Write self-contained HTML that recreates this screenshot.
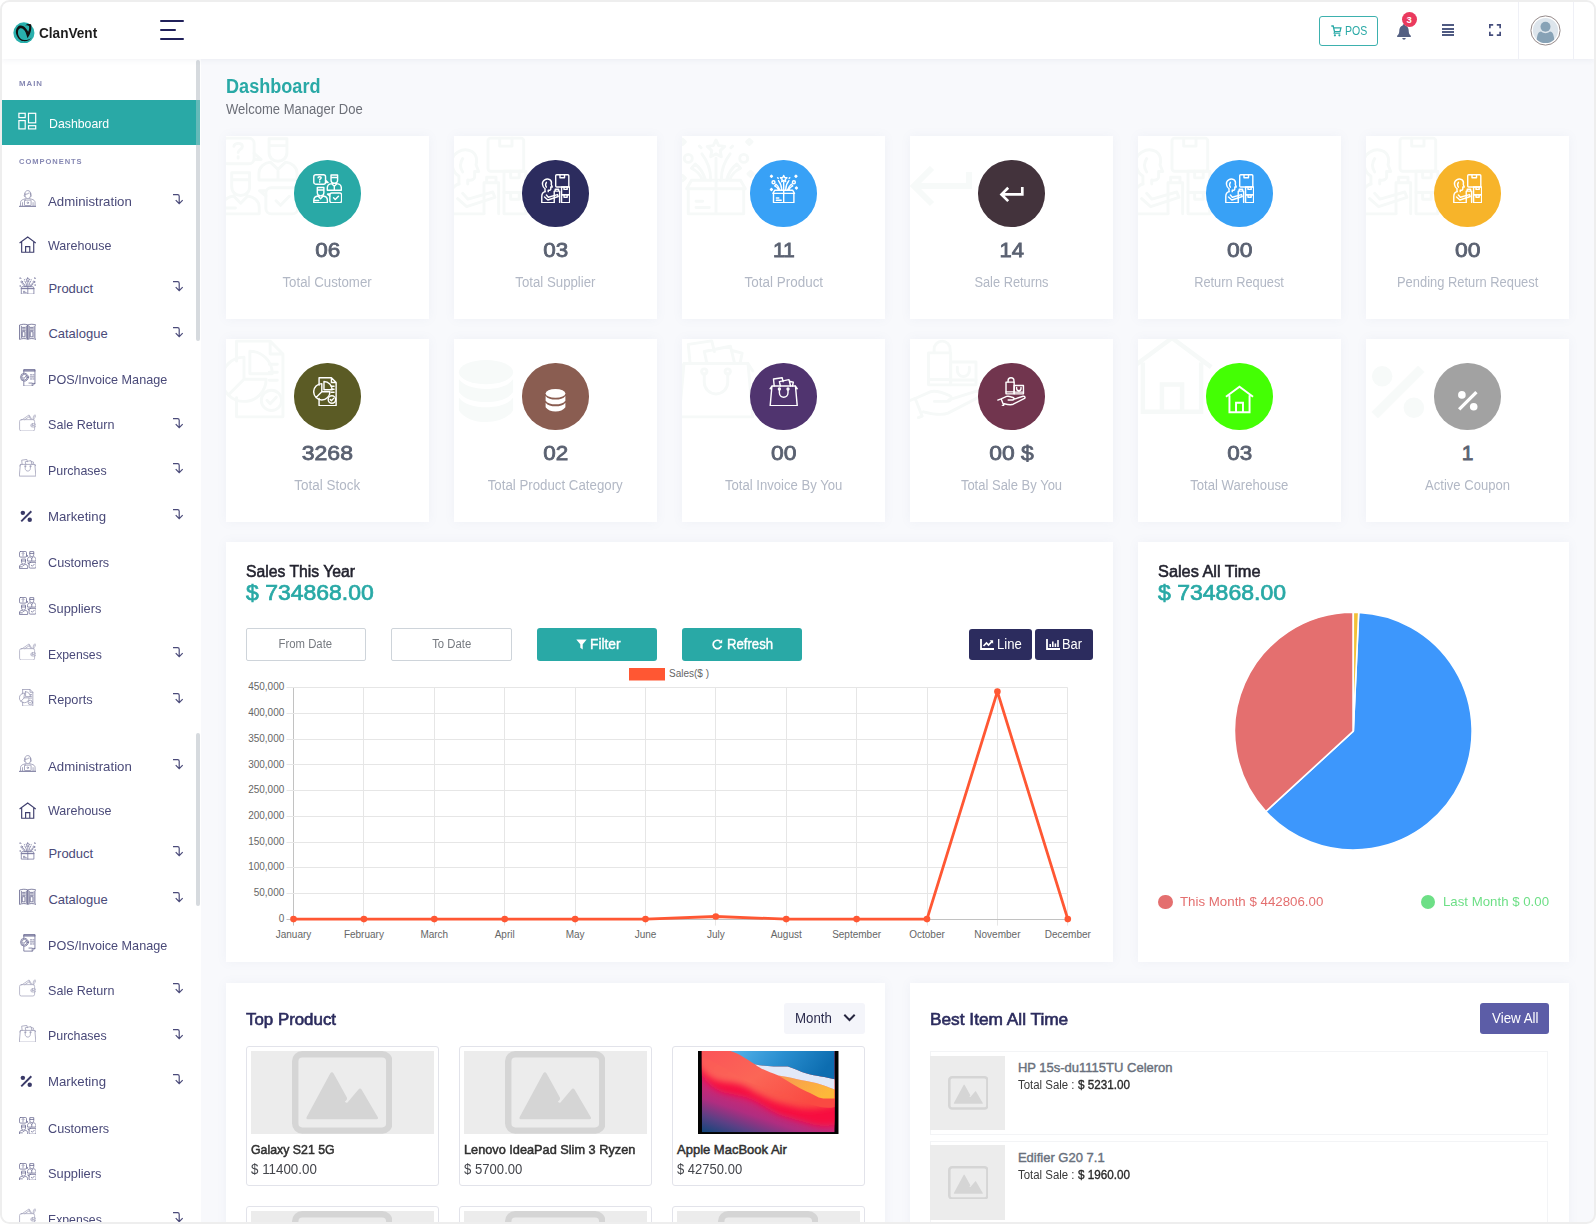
<!DOCTYPE html>
<html lang="en"><head><meta charset="utf-8"><title>ClanVent - Dashboard</title>
<style>
html,body{margin:0;padding:0;background:#fff;width:1596px;height:1224px;overflow:hidden}
body{font-family:"Liberation Sans",Arial,sans-serif;position:relative}
#f{position:absolute;left:0;top:0;width:1592px;height:1220px;border:2px solid #eee;border-radius:9.500px;overflow:hidden;background:#f8f9fc}
#c{position:absolute;left:-2px;top:-2px;width:1596px;height:1224px}
.a{position:absolute;display:block}
.t{position:absolute;display:block;white-space:nowrap;line-height:1}
</style></head><body><div id="f"><div id="c">
<div class="a" style="left:2px;top:2px;width:1592px;height:57px;background:#fff;box-shadow:0 1px 6px rgba(60,70,110,.07);z-index:3"></div>
<div class="a" style="z-index:4;left:0;top:0;width:1596px;height:60px">
<svg class="a" style="left:12.900px;top:21.700px" width="21.800" height="21.800" viewBox="0 0 22 22"><circle cx="11" cy="11" r="10.650" fill="#29b0ad"/><path d="M6.800 3.600C3.500 4.800 2.200 9 3.400 12.500 4.600 16 7.500 19.200 11 19.300c3.500.1 6.500-1.300 7.900-3.700-1.900 2-4.900 2.800-7.700 2.600C8 18 5.800 15.400 5.200 12.400 4.600 9.500 5.400 7 7.400 6.400c2.100-.5 4.100 1.600 5.400 4.200l1.900 5.800c2.300-3.400 4.500-7.900 3.600-13.800-1.100-.6-3.300-.6-4.700-.1l-1.300 1.100c1.500-.4 2.900-.5 3.900.7.400 2.300-.1 4-.9 5.600C14.400 8 12.400 5.600 10.600 4.400 9.400 3.600 8 3.300 6.800 3.600z" fill="#121212"/></svg>
<span class="t" style="left:38.60px;top:25.76px;font-size:14px;color:#1d1d1d;font-weight:700;transform:scaleX(0.9716);transform-origin:0 50%;">ClanVent</span>
<div class="a" style="left:160px;top:19.6px;width:24.30000000000001px;height:2.1999999999999993px;background:#20205a;border-radius:1px"></div>
<div class="a" style="left:160px;top:28.6px;width:15.800000000000011px;height:2.1999999999999993px;background:#20205a;border-radius:1px"></div>
<div class="a" style="left:160px;top:38px;width:24.30000000000001px;height:2.200000000000003px;background:#20205a;border-radius:1px"></div>
<div class="a" style="left:1319px;top:16px;width:59px;height:30px;box-sizing:border-box;border:1.4px solid #3db1ae;border-radius:3px"></div>
<svg class="a" style="left:1331px;top:24.5px" width="11" height="12" viewBox="0 0 11 12"><path d="M.3 1h1.900l1.300 5.600h5.500l.9-3.800H3" fill="none" stroke="#29a9a6" stroke-width="1.300"/><path d="M3.600 6.600l-.5 1.600h6.200" fill="none" stroke="#29a9a6" stroke-width="1.100"/><circle cx="3.900" cy="10.300" r="1.100" fill="#29a9a6"/><circle cx="8.400" cy="10.300" r="1.100" fill="#29a9a6"/></svg>
<span class="t" style="left:1345.20px;top:25.49px;font-size:12.3px;color:#29a9a6;transform:scaleX(0.8585);transform-origin:0 50%;">POS</span>
<svg class="a" style="left:1396px;top:23px" width="16" height="18" viewBox="0 0 16 18"><path d="M8 1.200c-.8 0-1.300.5-1.300 1.200C4.300 3.100 3.300 5.200 3.300 7.600c0 2.600-.7 4-2.100 5.200-.4.400-.2 1.200.5 1.200h12.600c.7 0 .9-.8.500-1.200-1.400-1.200-2.100-2.600-2.100-5.200 0-2.400-1-4.500-3.400-5.200C9.300 1.700 8.800 1.200 8 1.200z" fill="#546083"/><path d="M6.300 15h3.400c0 1-.8 1.700-1.700 1.700S6.300 16 6.300 15z" fill="#546083"/></svg>
<div class="a" style="left:1401.5px;top:11.700px;width:15.400px;height:15.400px;border-radius:50%;background:#ea3a5e"></div>
<span class="t" style="left:1406.56px;top:14.86px;font-size:9.5px;color:#fff;font-weight:700;">3</span>
<div class="a" style="left:1441.6px;top:24px;width:12.400000000000091px;height:2px;background:#4f5a82;"></div>
<div class="a" style="left:1441.6px;top:27.5px;width:12.400000000000091px;height:2.0px;background:#4f5a82;"></div>
<div class="a" style="left:1441.6px;top:31px;width:12.400000000000091px;height:2px;background:#4f5a82;"></div>
<div class="a" style="left:1441.6px;top:34.3px;width:12.400000000000091px;height:2.0px;background:#4f5a82;"></div>
<svg class="a" style="left:1489px;top:24px" width="12" height="12" viewBox="0 0 12 12" fill="none" stroke="#454e7c" stroke-width="1.700"><path d="M.85 4.200V.85H4.200M7.800.85h3.350V4.200M11.150 7.800v3.350H7.800M4.200 11.150H.85V7.800"/></svg>
<div class="a" style="left:1518px;top:2px;width:1px;height:57px;background:#eff0f6;"></div>
<div class="a" style="left:1573px;top:2px;width:1px;height:57px;background:#eff0f6;"></div>
<svg class="a" style="left:1530.200px;top:14.500px" width="31" height="31" viewBox="0 0 31 31"><circle cx="15.500" cy="15.500" r="14.600" fill="#fff" stroke="#958a8a" stroke-width="1"/><clipPath id="avc"><circle cx="15.500" cy="15.500" r="12.600"/></clipPath><circle cx="15.500" cy="15.500" r="12.600" fill="#dde5ec"/><g clip-path="url(#avc)" fill="#87a2b6"><circle cx="15.500" cy="11.800" r="5"/><path d="M6.500 30c0-9 1.500-13.500 4.500-13.500 1.500 1.300 3 1.700 4.500 1.700s3-.4 4.500-1.700c3 0 4.500 4.500 4.500 13.500z"/></g></svg>
</div>
<div class="a" style="left:2px;top:59px;width:194.3px;height:1163px;background:#fff;"></div>
<div class="a" style="left:196.3px;top:59px;width:4.699999999999989px;height:1163px;background:#fff;"></div>
<div class="a" style="left:196.3px;top:59.5px;width:3.6999999999999886px;height:281.0px;background:#d6dade;border-radius:2px"></div>
<div class="a" style="left:196.3px;top:733px;width:3.6999999999999886px;height:173px;background:#d6dade;border-radius:2px"></div>
<span class="t" style="left:18.60px;top:80.09px;font-size:8px;color:#8688b3;font-weight:700;letter-spacing:1px;transform:scaleX(0.9819);transform-origin:0 50%;">MAIN</span>
<div class="a" style="left:2px;top:100px;width:198px;height:45.19999999999999px;background:#29a9a6;"></div>
<div class="a" style="left:196.3px;top:100px;width:3.6999999999999886px;height:45.19999999999999px;background:rgba(214,218,222,.35);"></div>
<svg class="a" style="left:18px;top:112px" width="19" height="18" viewBox="0 0 19 18" fill="none" stroke="#fff" stroke-width="1.200"><rect x=".9" y="1.300" width="6.300" height="4.300"/><rect x="10.500" y="1.300" width="7.200" height="9.500"/><rect x=".9" y="8.600" width="6.300" height="8.300"/><rect x="10.500" y="13.700" width="7.200" height="3.200"/></svg>
<span class="t" style="left:48.80px;top:116.85px;font-size:13px;color:#fff;transform:scaleX(0.9466);transform-origin:0 50%;">Dashboard</span>
<span class="t" style="left:18.60px;top:157.69px;font-size:8px;color:#8688b3;font-weight:700;letter-spacing:1px;transform:scaleX(0.9445);transform-origin:0 50%;">COMPONENTS</span>
<span class="t" style="left:48.40px;top:194.65px;font-size:13px;color:#4a4a79;transform:scaleX(1.0174);transform-origin:0 50%;">Administration</span>
<svg class="a" style="left:18.6px;top:189.9px;opacity:1;" width="17.6" height="17.6" viewBox="0 0 30 30" fill="none" stroke="#8c8cab" stroke-width="1.3" stroke-linejoin="round" stroke-linecap="round"><path d="M9.600 7.200c0-3.600 2.400-6.200 5.400-6.200s5.400 2.600 5.400 6.200M10.400 6.800v2.800c0 2.800 2 5 4.600 5s4.600-2.200 4.600-5V6.800M9.600 7.200c3 .4 6-.6 7.800-2.600.8 1.200 1.800 2 3 2.400M9.600 8.600c-1.200 0-1.500 2.600.4 3M20.400 8.600c1.200 0 1.500 2.600-.4 3M2.600 27v-5.600c0-3 2.400-4.800 5.400-5.500l4-1.200M27.400 27v-5.600c0-3-2.400-4.800-5.400-5.500l-4-1.200M6 21.500V27M24 21.500V27"/><rect x="9.400" y="17.200" width="11.200" height="9.300" rx="1"/><circle cx="15" cy="21.800" r="1.300"/><path d="M.8 28h28.400" stroke-width="2.200"/></svg>
<svg class="a" style="left:172px;top:192.9px" width="12" height="12" viewBox="0 0 12 12" fill="none" stroke="#4a4a79" stroke-width="1.200"><path d="M1 1.600h4.600c1 0 1.600.6 1.600 1.600v7.200M3.700 7.200l3.500 3.500 3.500-3.500"/></svg>
<span class="t" style="left:48.40px;top:238.75px;font-size:13px;color:#4a4a79;transform:scaleX(0.9622);transform-origin:0 50%;">Warehouse</span>
<svg class="a" style="left:18.6px;top:236.4px" width="17.4" height="17.4" viewBox="0 0 30 30" fill="none" stroke="#3f3f6e" stroke-width="2" stroke-linejoin="miter"><path d="M1 12.200L15 1.800l14 10.400M4.600 10.500v17.600h20.800V10.500M11.400 28.100v-9.700h7.200v9.700"/></svg>
<span class="t" style="left:48.40px;top:281.55px;font-size:13px;color:#4a4a79;">Product</span>
<svg class="a" style="left:18.6px;top:276.8px;opacity:1;" width="17.6" height="17.6" viewBox="0 0 30 30" fill="none" stroke="#74749b" stroke-width="1.3" stroke-linejoin="round" stroke-linecap="round"><path d="M4.600 19.800h20.800v9.400H4.600zM5.800 16.600h18.400l1.800 3.200H4zM15 16.600v12.600M7.500 24.500h2.500M7.500 26.800h5"/><path d="M15 1.500l1 2.100 2.300.3-1.700 1.600.4 2.300-2-1.100-2 1.100.4-2.300-1.700-1.600 2.300-.3zM15 8.300v8M13 16.300c0-4-1.300-7-3.300-9.600M17 16.300c0-4 1.300-7 3.300-9.600M11 16.300c-.8-2.600-2-4.400-3.800-5.800l-1.400 1.600c2 1 3.400 2.400 4 4.200M19 16.300c.8-2.600 2-4.400 3.800-5.800l1.400 1.600c-2 1-3.400 2.400-4 4.200"/><circle cx="4.600" cy="8.400" r="1.500"/><circle cx="25.400" cy="8.400" r="1.500"/><path d="M2.500 1.200l1 1-1 1-1-1zM27.500 1.200l1 1-1 1-1-1zM2.500 14.800l1 1-1 1-1-1zM28 13.200l1 1-1 1-1-1zM8.800 3.800l.6.600M21.200 3.800l-.6.600"/></svg>
<svg class="a" style="left:172px;top:279.8px" width="12" height="12" viewBox="0 0 12 12" fill="none" stroke="#4a4a79" stroke-width="1.200"><path d="M1 1.600h4.600c1 0 1.600.6 1.600 1.600v7.200M3.700 7.200l3.500 3.500 3.500-3.500"/></svg>
<span class="t" style="left:48.40px;top:327.35px;font-size:13px;color:#4a4a79;">Catalogue</span>
<svg class="a" style="left:18.6px;top:322.6px;opacity:1;" width="17.6" height="17.6" viewBox="0 0 30 30" fill="none" stroke="#5d5d88" stroke-width="1.3" stroke-linejoin="round" stroke-linecap="round"><path d="M1.500 3.300c4.500-1.600 9-1.600 13.500 0v24.400c-4.500-1.600-9-1.600-13.500 0zM28.500 3.300c-4.500-1.600-9-1.600-13.500 0v24.400c4.500-1.600 9-1.600 13.500 0z"/><path d="M4 5.500v19.700M12.500 5.500v19.700M17.500 5.500v19.700M26 5.500v19.700M6 7.500h4.500M6 10h4.500M6 12.500h4.500M19.500 7.500H24M19.500 10H24M19.500 12.500H24"/><rect x="6.200" y="14.800" width="4" height="8.800"/><rect x="19.800" y="14.800" width="4" height="8.800"/></svg>
<svg class="a" style="left:172px;top:325.6px" width="12" height="12" viewBox="0 0 12 12" fill="none" stroke="#4a4a79" stroke-width="1.200"><path d="M1 1.600h4.600c1 0 1.600.6 1.600 1.600v7.200M3.700 7.200l3.500 3.500 3.500-3.500"/></svg>
<span class="t" style="left:48.40px;top:373.35px;font-size:13px;color:#4a4a79;transform:scaleX(0.9703);transform-origin:0 50%;">POS/Invoice Manage</span>
<svg class="a" style="left:18.6px;top:368.6px;opacity:1;" width="17.6" height="17.6" viewBox="0 0 30 30" fill="none" stroke="#64648e" stroke-width="1.3" stroke-linejoin="round" stroke-linecap="round"><path d="M8.200 7V.8h19v23.800l-4.700 4.600H8.200v-8.500M22.500 29.200v-4.600h4.700M8.200 2.200h19M8.200 3.600h19M19.500 10h2M23.500 10h2M19 13.500h6.500M19.500 17h2M23.500 17h2M17 24h5"/><circle cx="9.300" cy="14" r="6.700"/><circle cx="9.300" cy="14" r="4.800"/><path d="M6.200 14l2.200 2.200 4-4.600"/></svg>
<span class="t" style="left:48.40px;top:418.35px;font-size:13px;color:#4a4a79;transform:scaleX(0.9672);transform-origin:0 50%;">Sale Return</span>
<svg class="a" style="left:18.6px;top:413.6px;opacity:1;" width="17.6" height="17.6" viewBox="0 0 30 30" fill="none" stroke="#a6a6bd" stroke-width="1.3" stroke-linejoin="round" stroke-linecap="round"><rect x="1" y="9.600" width="25.600" height="19.400" rx="3"/><path d="M5.500 9.600l11.700-8 4.300 7M10 9.600l8-5.400M17.500 5l3 4.600"/><rect x="20" y="16.600" width="9.200" height="5.600" rx="2.800"/><circle cx="23" cy="19.400" r="1.200"/><path d="M23.800 9.600l.8-5c.3-1.600 2-3.800 3.800-2.600 1.300 1 .4 3-1 4l-2 1.600-.2 2M26.300 3.800l.6.600"/></svg>
<svg class="a" style="left:172px;top:416.6px" width="12" height="12" viewBox="0 0 12 12" fill="none" stroke="#4a4a79" stroke-width="1.200"><path d="M1 1.600h4.600c1 0 1.600.6 1.600 1.600v7.200M3.700 7.200l3.500 3.500 3.500-3.500"/></svg>
<span class="t" style="left:48.40px;top:464.05px;font-size:13px;color:#4a4a79;transform:scaleX(0.9557);transform-origin:0 50%;">Purchases</span>
<svg class="a" style="left:18.6px;top:459.3px;opacity:1;" width="17.6" height="17.6" viewBox="0 0 30 30" fill="none" stroke="#9a9ab4" stroke-width="1.3" stroke-linejoin="round" stroke-linecap="round"><path d="M3 9.200h24l1.800 20H1.200zM3 9.200L1.200 12M27 9.200l1.800 2.800"/><path d="M10.600 13v3.200c0 2.500 2 4.400 4.400 4.400s4.400-1.900 4.400-4.400V13"/><circle cx="10.600" cy="12.200" r="1"/><circle cx="19.400" cy="12.200" r="1"/><path d="M5.300 9.200L4.600 2l8.800-1.300 1 4M11.600 9.200l-1-4.500 9.800-2 1.600 6.500M21 4.300l3.800 1-.8 3.900"/></svg>
<svg class="a" style="left:172px;top:462.3px" width="12" height="12" viewBox="0 0 12 12" fill="none" stroke="#4a4a79" stroke-width="1.200"><path d="M1 1.600h4.600c1 0 1.600.6 1.600 1.600v7.200M3.700 7.200l3.500 3.500 3.500-3.500"/></svg>
<span class="t" style="left:48.40px;top:509.75px;font-size:13px;color:#4a4a79;transform:scaleX(1.0161);transform-origin:0 50%;">Marketing</span>
<svg class="a" style="left:20.4px;top:510.0px" width="12.6" height="12.6" viewBox="0 0 30 30"><circle cx="6.800" cy="6.800" r="5.300" fill="#3a3a68"/><circle cx="23.200" cy="23.200" r="5.300" fill="#3a3a68"/><path d="M3 27L27 3" stroke="#3a3a68" stroke-width="4.600"/></svg>
<svg class="a" style="left:172px;top:508.0px" width="12" height="12" viewBox="0 0 12 12" fill="none" stroke="#4a4a79" stroke-width="1.200"><path d="M1 1.600h4.600c1 0 1.600.6 1.600 1.600v7.200M3.700 7.200l3.500 3.500 3.500-3.500"/></svg>
<span class="t" style="left:48.40px;top:556.15px;font-size:13px;color:#4a4a79;transform:scaleX(0.9738);transform-origin:0 50%;">Customers</span>
<svg class="a" style="left:18.6px;top:551.4px;opacity:1;" width="17.6" height="17.6" viewBox="0 0 30 30" fill="none" stroke="#6a6a92" stroke-width="1.3" stroke-linejoin="round" stroke-linecap="round"><rect x=".8" y=".8" width="12" height="9.600" rx="2"/><path d="M12.800 6.500l2.600 2.300h-2.600M5.200 3.900c0-1.500 3.200-1.500 3.200 0 0 1.100-1.600 1.100-1.600 2.300M6.800 7.800v.5"/><path d="M18.400 3.600V1h6.700v2.600zM18.400 3.600v2.600c0 2 1.500 3.300 3.350 3.300s3.350-1.300 3.350-3.300V3.600M14.600 16.500v-2.400c0-2.500 2-4 4.300-4.300l2.850 2.700 2.850-2.700c2.300.3 4.300 1.800 4.300 4.300v2.400zM21.750 12.500v4"/><path d="M4.400 16.400v-2.600h6.700v2.600zM4.400 16.400V19c0 2 1.500 3.300 3.350 3.300S11.100 21 11.100 19v-2.600M.8 29.200v-2.400c0-2.500 2-4 4.300-4.300l2.650 2.700 2.650-2.700c2.300.3 4.300 1.800 4.300 4.300v2.400zM.8 27h5"/><rect x="17.200" y="19.400" width="12" height="9.800" rx="2"/><path d="M17.200 22.500l-2.400-2h2.400M21 24.300l1.700 1.700 3.300-3.400"/></svg>
<span class="t" style="left:48.40px;top:601.85px;font-size:13px;color:#4a4a79;transform:scaleX(0.9853);transform-origin:0 50%;">Suppliers</span>
<svg class="a" style="left:18.6px;top:597.1px;opacity:1;" width="17.6" height="17.6" viewBox="0 0 30 30" fill="none" stroke="#6a6a92" stroke-width="1.3" stroke-linejoin="round" stroke-linecap="round"><rect x=".8" y=".8" width="12" height="9.600" rx="2"/><path d="M12.800 6.500l2.600 2.300h-2.600M5.200 3.900c0-1.500 3.200-1.500 3.200 0 0 1.100-1.600 1.100-1.600 2.300M6.800 7.800v.5"/><path d="M18.400 3.600V1h6.700v2.600zM18.400 3.600v2.600c0 2 1.500 3.300 3.350 3.300s3.350-1.300 3.350-3.300V3.600M14.600 16.500v-2.400c0-2.500 2-4 4.300-4.300l2.850 2.700 2.850-2.700c2.300.3 4.300 1.800 4.300 4.300v2.400zM21.750 12.500v4"/><path d="M4.400 16.400v-2.600h6.700v2.600zM4.400 16.400V19c0 2 1.500 3.300 3.350 3.300S11.100 21 11.100 19v-2.600M.8 29.200v-2.400c0-2.500 2-4 4.300-4.300l2.650 2.700 2.650-2.700c2.300.3 4.300 1.800 4.300 4.300v2.400zM.8 27h5"/><rect x="17.200" y="19.400" width="12" height="9.800" rx="2"/><path d="M17.200 22.500l-2.400-2h2.400M21 24.300l1.700 1.700 3.300-3.400"/></svg>
<span class="t" style="left:48.40px;top:647.55px;font-size:13px;color:#4a4a79;transform:scaleX(0.9424);transform-origin:0 50%;">Expenses</span>
<svg class="a" style="left:18.6px;top:642.8px;opacity:1;" width="17.6" height="17.6" viewBox="0 0 30 30" fill="none" stroke="#a6a6bd" stroke-width="1.3" stroke-linejoin="round" stroke-linecap="round"><rect x="1" y="9.600" width="25.600" height="19.400" rx="3"/><path d="M5.500 9.600l11.700-8 4.300 7M10 9.600l8-5.400M17.500 5l3 4.600"/><rect x="20" y="16.600" width="9.200" height="5.600" rx="2.800"/><circle cx="23" cy="19.400" r="1.200"/><path d="M23.800 9.600l.8-5c.3-1.600 2-3.800 3.800-2.600 1.300 1 .4 3-1 4l-2 1.600-.2 2M26.300 3.800l.6.600"/></svg>
<svg class="a" style="left:172px;top:645.8px" width="12" height="12" viewBox="0 0 12 12" fill="none" stroke="#4a4a79" stroke-width="1.200"><path d="M1 1.600h4.600c1 0 1.600.6 1.600 1.600v7.200M3.700 7.200l3.500 3.500 3.500-3.500"/></svg>
<span class="t" style="left:48.40px;top:693.25px;font-size:13px;color:#4a4a79;transform:scaleX(0.9798);transform-origin:0 50%;">Reports</span>
<svg class="a" style="left:18.6px;top:688.5px;opacity:1;" width="17.6" height="17.6" viewBox="0 0 30 30" fill="none" stroke="#9696b2" stroke-width="1.3" stroke-linejoin="round" stroke-linecap="round"><path d="M6.200.8h12.600l4.800 4.800v23.600H6.200V22M6.200.8v7.500M18.800.8v4.800h4.800M18.500 9.500h3M18.500 12.500h3M18.500 15.500h3"/><path d="M9 6.800A8.300 8.300 0 1 0 17.300 15.100H9zM9 15.100l-5.900 5.900"/><path d="M11.200 4.600v8.400h8.400a8.400 8.400 0 0 0-8.400-8.400z"/><circle cx="19.300" cy="23" r="3.800"/><path d="M17.600 23l1.200 1.300 2.300-2.500"/></svg>
<svg class="a" style="left:172px;top:691.5px" width="12" height="12" viewBox="0 0 12 12" fill="none" stroke="#4a4a79" stroke-width="1.200"><path d="M1 1.600h4.600c1 0 1.600.6 1.600 1.600v7.200M3.700 7.200l3.500 3.500 3.500-3.500"/></svg>
<span class="t" style="left:48.40px;top:760.05px;font-size:13px;color:#4a4a79;transform:scaleX(1.0174);transform-origin:0 50%;">Administration</span>
<svg class="a" style="left:18.6px;top:755.3px;opacity:1;" width="17.6" height="17.6" viewBox="0 0 30 30" fill="none" stroke="#8c8cab" stroke-width="1.3" stroke-linejoin="round" stroke-linecap="round"><path d="M9.600 7.200c0-3.600 2.400-6.200 5.400-6.200s5.400 2.600 5.400 6.200M10.400 6.800v2.800c0 2.800 2 5 4.600 5s4.600-2.200 4.600-5V6.800M9.600 7.200c3 .4 6-.6 7.800-2.600.8 1.200 1.800 2 3 2.400M9.600 8.600c-1.200 0-1.500 2.600.4 3M20.400 8.600c1.200 0 1.500 2.600-.4 3M2.600 27v-5.600c0-3 2.400-4.800 5.400-5.500l4-1.200M27.400 27v-5.600c0-3-2.400-4.800-5.400-5.500l-4-1.200M6 21.500V27M24 21.500V27"/><rect x="9.400" y="17.200" width="11.200" height="9.300" rx="1"/><circle cx="15" cy="21.800" r="1.300"/><path d="M.8 28h28.400" stroke-width="2.200"/></svg>
<svg class="a" style="left:172px;top:758.3px" width="12" height="12" viewBox="0 0 12 12" fill="none" stroke="#4a4a79" stroke-width="1.200"><path d="M1 1.600h4.600c1 0 1.600.6 1.600 1.600v7.200M3.700 7.200l3.500 3.500 3.500-3.500"/></svg>
<span class="t" style="left:48.40px;top:804.15px;font-size:13px;color:#4a4a79;transform:scaleX(0.9622);transform-origin:0 50%;">Warehouse</span>
<svg class="a" style="left:18.6px;top:801.8px" width="17.4" height="17.4" viewBox="0 0 30 30" fill="none" stroke="#3f3f6e" stroke-width="2" stroke-linejoin="miter"><path d="M1 12.200L15 1.800l14 10.400M4.600 10.500v17.600h20.800V10.500M11.400 28.100v-9.700h7.200v9.700"/></svg>
<span class="t" style="left:48.40px;top:846.95px;font-size:13px;color:#4a4a79;">Product</span>
<svg class="a" style="left:18.6px;top:842.2px;opacity:1;" width="17.6" height="17.6" viewBox="0 0 30 30" fill="none" stroke="#74749b" stroke-width="1.3" stroke-linejoin="round" stroke-linecap="round"><path d="M4.600 19.800h20.800v9.400H4.600zM5.800 16.600h18.400l1.800 3.200H4zM15 16.600v12.600M7.500 24.500h2.500M7.500 26.800h5"/><path d="M15 1.500l1 2.100 2.300.3-1.700 1.600.4 2.300-2-1.100-2 1.100.4-2.300-1.700-1.600 2.300-.3zM15 8.300v8M13 16.300c0-4-1.300-7-3.300-9.600M17 16.300c0-4 1.300-7 3.300-9.600M11 16.300c-.8-2.600-2-4.400-3.800-5.800l-1.400 1.600c2 1 3.400 2.400 4 4.200M19 16.300c.8-2.600 2-4.400 3.800-5.800l1.400 1.600c-2 1-3.400 2.400-4 4.200"/><circle cx="4.600" cy="8.400" r="1.500"/><circle cx="25.400" cy="8.400" r="1.500"/><path d="M2.500 1.200l1 1-1 1-1-1zM27.500 1.200l1 1-1 1-1-1zM2.500 14.800l1 1-1 1-1-1zM28 13.200l1 1-1 1-1-1zM8.800 3.800l.6.600M21.200 3.800l-.6.600"/></svg>
<svg class="a" style="left:172px;top:845.2px" width="12" height="12" viewBox="0 0 12 12" fill="none" stroke="#4a4a79" stroke-width="1.200"><path d="M1 1.600h4.600c1 0 1.600.6 1.600 1.600v7.200M3.700 7.200l3.500 3.500 3.500-3.500"/></svg>
<span class="t" style="left:48.40px;top:892.75px;font-size:13px;color:#4a4a79;">Catalogue</span>
<svg class="a" style="left:18.6px;top:888.0px;opacity:1;" width="17.6" height="17.6" viewBox="0 0 30 30" fill="none" stroke="#5d5d88" stroke-width="1.3" stroke-linejoin="round" stroke-linecap="round"><path d="M1.500 3.300c4.500-1.600 9-1.600 13.500 0v24.400c-4.500-1.600-9-1.600-13.500 0zM28.500 3.300c-4.500-1.600-9-1.600-13.500 0v24.400c4.500-1.600 9-1.600 13.500 0z"/><path d="M4 5.500v19.700M12.500 5.500v19.700M17.500 5.500v19.700M26 5.500v19.700M6 7.500h4.500M6 10h4.500M6 12.500h4.500M19.500 7.500H24M19.500 10H24M19.500 12.500H24"/><rect x="6.200" y="14.800" width="4" height="8.800"/><rect x="19.800" y="14.800" width="4" height="8.800"/></svg>
<svg class="a" style="left:172px;top:891.0px" width="12" height="12" viewBox="0 0 12 12" fill="none" stroke="#4a4a79" stroke-width="1.200"><path d="M1 1.600h4.600c1 0 1.600.6 1.600 1.600v7.200M3.700 7.200l3.500 3.500 3.500-3.500"/></svg>
<span class="t" style="left:48.40px;top:938.75px;font-size:13px;color:#4a4a79;transform:scaleX(0.9703);transform-origin:0 50%;">POS/Invoice Manage</span>
<svg class="a" style="left:18.6px;top:934.0px;opacity:1;" width="17.6" height="17.6" viewBox="0 0 30 30" fill="none" stroke="#64648e" stroke-width="1.3" stroke-linejoin="round" stroke-linecap="round"><path d="M8.200 7V.8h19v23.800l-4.700 4.600H8.200v-8.500M22.500 29.200v-4.600h4.700M8.200 2.200h19M8.200 3.600h19M19.500 10h2M23.500 10h2M19 13.500h6.500M19.500 17h2M23.500 17h2M17 24h5"/><circle cx="9.300" cy="14" r="6.700"/><circle cx="9.300" cy="14" r="4.800"/><path d="M6.200 14l2.200 2.200 4-4.600"/></svg>
<span class="t" style="left:48.40px;top:983.75px;font-size:13px;color:#4a4a79;transform:scaleX(0.9672);transform-origin:0 50%;">Sale Return</span>
<svg class="a" style="left:18.6px;top:979.0px;opacity:1;" width="17.6" height="17.6" viewBox="0 0 30 30" fill="none" stroke="#a6a6bd" stroke-width="1.3" stroke-linejoin="round" stroke-linecap="round"><rect x="1" y="9.600" width="25.600" height="19.400" rx="3"/><path d="M5.500 9.600l11.700-8 4.300 7M10 9.600l8-5.400M17.500 5l3 4.600"/><rect x="20" y="16.600" width="9.200" height="5.600" rx="2.800"/><circle cx="23" cy="19.400" r="1.200"/><path d="M23.800 9.600l.8-5c.3-1.600 2-3.800 3.800-2.600 1.300 1 .4 3-1 4l-2 1.600-.2 2M26.300 3.800l.6.600"/></svg>
<svg class="a" style="left:172px;top:982.0px" width="12" height="12" viewBox="0 0 12 12" fill="none" stroke="#4a4a79" stroke-width="1.200"><path d="M1 1.600h4.600c1 0 1.600.6 1.600 1.600v7.200M3.700 7.200l3.500 3.500 3.500-3.500"/></svg>
<span class="t" style="left:48.40px;top:1029.45px;font-size:13px;color:#4a4a79;transform:scaleX(0.9557);transform-origin:0 50%;">Purchases</span>
<svg class="a" style="left:18.6px;top:1024.7px;opacity:1;" width="17.6" height="17.6" viewBox="0 0 30 30" fill="none" stroke="#9a9ab4" stroke-width="1.3" stroke-linejoin="round" stroke-linecap="round"><path d="M3 9.200h24l1.800 20H1.200zM3 9.200L1.200 12M27 9.200l1.800 2.800"/><path d="M10.600 13v3.200c0 2.500 2 4.400 4.400 4.400s4.400-1.900 4.400-4.400V13"/><circle cx="10.600" cy="12.200" r="1"/><circle cx="19.400" cy="12.200" r="1"/><path d="M5.300 9.200L4.600 2l8.800-1.300 1 4M11.600 9.200l-1-4.500 9.800-2 1.600 6.500M21 4.300l3.800 1-.8 3.900"/></svg>
<svg class="a" style="left:172px;top:1027.7px" width="12" height="12" viewBox="0 0 12 12" fill="none" stroke="#4a4a79" stroke-width="1.200"><path d="M1 1.600h4.600c1 0 1.600.6 1.600 1.600v7.200M3.700 7.200l3.500 3.500 3.500-3.500"/></svg>
<span class="t" style="left:48.40px;top:1075.15px;font-size:13px;color:#4a4a79;transform:scaleX(1.0161);transform-origin:0 50%;">Marketing</span>
<svg class="a" style="left:20.4px;top:1075.4px" width="12.6" height="12.6" viewBox="0 0 30 30"><circle cx="6.800" cy="6.800" r="5.300" fill="#3a3a68"/><circle cx="23.200" cy="23.200" r="5.300" fill="#3a3a68"/><path d="M3 27L27 3" stroke="#3a3a68" stroke-width="4.600"/></svg>
<svg class="a" style="left:172px;top:1073.4px" width="12" height="12" viewBox="0 0 12 12" fill="none" stroke="#4a4a79" stroke-width="1.200"><path d="M1 1.600h4.600c1 0 1.600.6 1.600 1.600v7.200M3.700 7.200l3.500 3.500 3.500-3.500"/></svg>
<span class="t" style="left:48.40px;top:1121.55px;font-size:13px;color:#4a4a79;transform:scaleX(0.9738);transform-origin:0 50%;">Customers</span>
<svg class="a" style="left:18.6px;top:1116.8px;opacity:1;" width="17.6" height="17.6" viewBox="0 0 30 30" fill="none" stroke="#6a6a92" stroke-width="1.3" stroke-linejoin="round" stroke-linecap="round"><rect x=".8" y=".8" width="12" height="9.600" rx="2"/><path d="M12.800 6.500l2.600 2.300h-2.600M5.200 3.900c0-1.500 3.200-1.500 3.200 0 0 1.100-1.600 1.100-1.600 2.300M6.800 7.800v.5"/><path d="M18.400 3.600V1h6.700v2.600zM18.400 3.600v2.600c0 2 1.500 3.300 3.350 3.300s3.350-1.300 3.350-3.300V3.600M14.600 16.500v-2.400c0-2.500 2-4 4.300-4.300l2.850 2.700 2.850-2.700c2.300.3 4.300 1.800 4.300 4.300v2.400zM21.750 12.500v4"/><path d="M4.400 16.400v-2.600h6.700v2.600zM4.400 16.400V19c0 2 1.500 3.300 3.350 3.300S11.100 21 11.100 19v-2.600M.8 29.200v-2.400c0-2.500 2-4 4.300-4.300l2.650 2.700 2.650-2.700c2.300.3 4.300 1.800 4.300 4.300v2.400zM.8 27h5"/><rect x="17.200" y="19.400" width="12" height="9.800" rx="2"/><path d="M17.200 22.500l-2.400-2h2.400M21 24.300l1.700 1.700 3.300-3.400"/></svg>
<span class="t" style="left:48.40px;top:1167.25px;font-size:13px;color:#4a4a79;transform:scaleX(0.9853);transform-origin:0 50%;">Suppliers</span>
<svg class="a" style="left:18.6px;top:1162.5px;opacity:1;" width="17.6" height="17.6" viewBox="0 0 30 30" fill="none" stroke="#6a6a92" stroke-width="1.3" stroke-linejoin="round" stroke-linecap="round"><rect x=".8" y=".8" width="12" height="9.600" rx="2"/><path d="M12.800 6.500l2.600 2.300h-2.600M5.200 3.900c0-1.500 3.200-1.500 3.200 0 0 1.100-1.600 1.100-1.600 2.300M6.800 7.800v.5"/><path d="M18.400 3.600V1h6.700v2.600zM18.400 3.600v2.600c0 2 1.500 3.300 3.350 3.300s3.350-1.300 3.350-3.300V3.600M14.600 16.500v-2.400c0-2.500 2-4 4.300-4.300l2.850 2.700 2.850-2.700c2.300.3 4.300 1.800 4.300 4.300v2.400zM21.750 12.500v4"/><path d="M4.400 16.400v-2.600h6.700v2.600zM4.400 16.400V19c0 2 1.500 3.300 3.350 3.300S11.100 21 11.100 19v-2.600M.8 29.200v-2.400c0-2.500 2-4 4.300-4.300l2.650 2.700 2.650-2.700c2.300.3 4.300 1.800 4.300 4.300v2.400zM.8 27h5"/><rect x="17.200" y="19.400" width="12" height="9.800" rx="2"/><path d="M17.200 22.500l-2.400-2h2.400M21 24.300l1.700 1.700 3.300-3.400"/></svg>
<span class="t" style="left:48.40px;top:1212.95px;font-size:13px;color:#4a4a79;transform:scaleX(0.9424);transform-origin:0 50%;">Expenses</span>
<svg class="a" style="left:18.6px;top:1208.2px;opacity:1;" width="17.6" height="17.6" viewBox="0 0 30 30" fill="none" stroke="#a6a6bd" stroke-width="1.3" stroke-linejoin="round" stroke-linecap="round"><rect x="1" y="9.600" width="25.600" height="19.400" rx="3"/><path d="M5.500 9.600l11.700-8 4.300 7M10 9.600l8-5.400M17.500 5l3 4.600"/><rect x="20" y="16.600" width="9.200" height="5.600" rx="2.800"/><circle cx="23" cy="19.400" r="1.200"/><path d="M23.800 9.600l.8-5c.3-1.600 2-3.800 3.800-2.600 1.300 1 .4 3-1 4l-2 1.600-.2 2M26.300 3.800l.6.600"/></svg>
<svg class="a" style="left:172px;top:1211.2px" width="12" height="12" viewBox="0 0 12 12" fill="none" stroke="#4a4a79" stroke-width="1.200"><path d="M1 1.600h4.600c1 0 1.600.6 1.600 1.600v7.200M3.700 7.200l3.500 3.500 3.500-3.500"/></svg>
<span class="t" style="left:226.30px;top:77.17px;font-size:19.5px;color:#29a9a6;font-weight:700;transform:scaleX(0.9278);transform-origin:0 50%;">Dashboard</span>
<span class="t" style="left:226.30px;top:102.16px;font-size:14px;color:#6c6f78;transform:scaleX(0.9311);transform-origin:0 50%;">Welcome Manager Doe</span>
<div class="a" style="left:226.0px;top:135.5px;width:203px;height:183.500px;background:#fff;overflow:hidden;box-shadow:0 0 10px rgba(120,130,170,.07);">
<svg class="a" style="left:-6px;top:0px;opacity:1;" width="80" height="80" viewBox="0 0 30 30" fill="none" stroke="#f6f9f8" stroke-width="1.1" stroke-linejoin="round" stroke-linecap="round"><rect x=".8" y=".8" width="12" height="9.600" rx="2"/><path d="M12.800 6.500l2.600 2.300h-2.600M5.200 3.900c0-1.500 3.200-1.500 3.200 0 0 1.100-1.600 1.100-1.600 2.300M6.800 7.800v.5"/><path d="M18.400 3.600V1h6.700v2.600zM18.400 3.600v2.600c0 2 1.500 3.300 3.350 3.300s3.350-1.300 3.350-3.300V3.600M14.600 16.500v-2.400c0-2.500 2-4 4.300-4.300l2.850 2.700 2.850-2.700c2.300.3 4.300 1.800 4.300 4.300v2.400zM21.750 12.500v4"/><path d="M4.400 16.400v-2.600h6.700v2.600zM4.400 16.400V19c0 2 1.500 3.300 3.350 3.300S11.100 21 11.100 19v-2.600M.8 29.200v-2.400c0-2.500 2-4 4.300-4.300l2.650 2.700 2.650-2.700c2.300.3 4.300 1.800 4.300 4.300v2.400zM.8 27h5"/><rect x="17.200" y="19.400" width="12" height="9.800" rx="2"/><path d="M17.200 22.500l-2.400-2h2.400M21 24.300l1.700 1.700 3.300-3.400"/></svg>
</div>
<div class="a" style="left:294.4px;top:160.4px;width:66.200px;height:66.200px;border-radius:50%;background:#29a9a6"></div>
<svg class="a" style="left:312.9px;top:174.1px;opacity:1;" width="29.4" height="29.4" viewBox="0 0 30 30" fill="none" stroke="#fff" stroke-width="1.45" stroke-linejoin="round" stroke-linecap="round"><rect x=".8" y=".8" width="12" height="9.600" rx="2"/><path d="M12.800 6.500l2.600 2.300h-2.600M5.200 3.900c0-1.500 3.200-1.500 3.200 0 0 1.100-1.600 1.100-1.600 2.300M6.800 7.800v.5"/><path d="M18.400 3.600V1h6.700v2.600zM18.400 3.600v2.600c0 2 1.500 3.300 3.350 3.300s3.350-1.300 3.350-3.300V3.600M14.600 16.500v-2.400c0-2.500 2-4 4.300-4.300l2.850 2.700 2.850-2.700c2.300.3 4.300 1.800 4.300 4.300v2.400zM21.750 12.500v4"/><path d="M4.400 16.400v-2.600h6.700v2.600zM4.400 16.400V19c0 2 1.500 3.300 3.350 3.300S11.100 21 11.100 19v-2.600M.8 29.200v-2.400c0-2.500 2-4 4.300-4.300l2.650 2.700 2.650-2.700c2.300.3 4.300 1.800 4.300 4.300v2.400zM.8 27h5"/><rect x="17.200" y="19.400" width="12" height="9.800" rx="2"/><path d="M17.200 22.500l-2.400-2h2.400M21 24.300l1.700 1.700 3.300-3.400"/></svg>
<span class="t" style="left:315.82px;top:239.34px;font-size:21px;color:#5a6171;-webkit-text-stroke:0.8px #5a6171;transform:scaleX(1.0703);transform-origin:50% 50%;">06</span>
<span class="t" style="left:280.43px;top:275.36px;font-size:14px;color:#b2b8c5;transform:scaleX(0.9475);transform-origin:50% 50%;">Total Customer</span>
<div class="a" style="left:454.0px;top:135.5px;width:203px;height:183.500px;background:#fff;overflow:hidden;box-shadow:0 0 10px rgba(120,130,170,.07);">
<svg class="a" style="left:-6px;top:0px;opacity:1;" width="80" height="80" viewBox="0 0 30 30" fill="none" stroke="#f6f9f8" stroke-width="1.1" stroke-linejoin="round" stroke-linecap="round"><rect x="15" y=".8" width="13.400" height="12.400" rx="1"/><path d="M19.400.8v3h4.600v-3"/><rect x="21" y="13.200" width="8.200" height="8"/><path d="M23.500 13.200v2.500h3.200v-2.500"/><rect x="21" y="21.200" width="8.200" height="8"/><path d="M23.500 21.200v2.500h3.200v-2.500"/><path d="M13.500 29.200V17.500h5.500v11.700M14.500 17.500v-2h3.500v2"/><path d="M9 5.800C5.500 4 1 6.500 1.500 10.500c.3 2.500 1.300 3.800 2.600 4.500v3M9 5.800c1.500 1 2 3 1.500 5l1 2.500H10v2c0 1-1 1.500-2.600 1.200v1.500M5.500 8.500c-1 1.500-1 3.500 0 5"/><path d="M.8 29.200v-6c0-3 1.500-4.800 3.300-5.200M.8 29.200h12.700M3.600 23.500l3.400 3 10.600-3.500-.8-2-9.300 2.700-2-2.200"/></svg>
</div>
<div class="a" style="left:522.4px;top:160.4px;width:66.200px;height:66.200px;border-radius:50%;background:#2c2c5e"></div>
<svg class="a" style="left:540.9px;top:174.1px;opacity:1;" width="29.4" height="29.4" viewBox="0 0 30 30" fill="none" stroke="#fff" stroke-width="1.45" stroke-linejoin="round" stroke-linecap="round"><rect x="15" y=".8" width="13.400" height="12.400" rx="1"/><path d="M19.400.8v3h4.600v-3"/><rect x="21" y="13.200" width="8.200" height="8"/><path d="M23.500 13.200v2.500h3.200v-2.500"/><rect x="21" y="21.200" width="8.200" height="8"/><path d="M23.500 21.200v2.500h3.200v-2.500"/><path d="M13.500 29.200V17.500h5.500v11.700M14.500 17.500v-2h3.500v2"/><path d="M9 5.800C5.500 4 1 6.500 1.500 10.500c.3 2.500 1.300 3.800 2.600 4.500v3M9 5.800c1.500 1 2 3 1.500 5l1 2.500H10v2c0 1-1 1.500-2.600 1.200v1.500M5.500 8.500c-1 1.500-1 3.500 0 5"/><path d="M.8 29.200v-6c0-3 1.500-4.800 3.300-5.200M.8 29.200h12.700M3.600 23.500l3.400 3 10.600-3.500-.8-2-9.300 2.700-2-2.200"/></svg>
<span class="t" style="left:543.82px;top:239.34px;font-size:21px;color:#5a6171;-webkit-text-stroke:0.8px #5a6171;transform:scaleX(1.0703);transform-origin:50% 50%;">03</span>
<span class="t" style="left:513.09px;top:275.36px;font-size:14px;color:#b2b8c5;transform:scaleX(0.9454);transform-origin:50% 50%;">Total Supplier</span>
<div class="a" style="left:682.0px;top:135.5px;width:203px;height:183.500px;background:#fff;overflow:hidden;box-shadow:0 0 10px rgba(120,130,170,.07);">
<svg class="a" style="left:-6px;top:0px;opacity:1;" width="80" height="80" viewBox="0 0 30 30" fill="none" stroke="#f6f9f8" stroke-width="1.1" stroke-linejoin="round" stroke-linecap="round"><path d="M4.600 19.800h20.800v9.400H4.600zM5.800 16.600h18.400l1.800 3.200H4zM15 16.600v12.600M7.500 24.500h2.500M7.500 26.800h5"/><path d="M15 1.500l1 2.100 2.300.3-1.700 1.600.4 2.300-2-1.100-2 1.100.4-2.300-1.700-1.600 2.300-.3zM15 8.300v8M13 16.300c0-4-1.300-7-3.300-9.600M17 16.300c0-4 1.300-7 3.300-9.600M11 16.300c-.8-2.600-2-4.400-3.800-5.800l-1.400 1.600c2 1 3.400 2.400 4 4.200M19 16.300c.8-2.600 2-4.400 3.800-5.800l1.400 1.600c-2 1-3.400 2.400-4 4.200"/><circle cx="4.600" cy="8.400" r="1.500"/><circle cx="25.400" cy="8.400" r="1.500"/><path d="M2.500 1.200l1 1-1 1-1-1zM27.500 1.200l1 1-1 1-1-1zM2.500 14.800l1 1-1 1-1-1zM28 13.200l1 1-1 1-1-1zM8.800 3.800l.6.600M21.200 3.800l-.6.600"/></svg>
</div>
<div class="a" style="left:750.4px;top:160.4px;width:66.200px;height:66.200px;border-radius:50%;background:#38a1f6"></div>
<svg class="a" style="left:768.9px;top:174.1px;opacity:1;" width="29.4" height="29.4" viewBox="0 0 30 30" fill="none" stroke="#fff" stroke-width="1.45" stroke-linejoin="round" stroke-linecap="round"><path d="M4.600 19.800h20.800v9.400H4.600zM5.800 16.600h18.400l1.800 3.200H4zM15 16.600v12.600M7.500 24.500h2.500M7.500 26.800h5"/><path d="M15 1.500l1 2.100 2.300.3-1.700 1.600.4 2.300-2-1.100-2 1.100.4-2.300-1.700-1.600 2.300-.3zM15 8.300v8M13 16.300c0-4-1.300-7-3.300-9.600M17 16.300c0-4 1.300-7 3.300-9.600M11 16.300c-.8-2.600-2-4.400-3.800-5.800l-1.400 1.600c2 1 3.400 2.400 4 4.200M19 16.300c.8-2.600 2-4.400 3.800-5.800l1.400 1.600c-2 1-3.400 2.400-4 4.200"/><circle cx="4.600" cy="8.400" r="1.500"/><circle cx="25.400" cy="8.400" r="1.500"/><path d="M2.500 1.200l1 1-1 1-1-1zM27.500 1.200l1 1-1 1-1-1zM2.500 14.800l1 1-1 1-1-1zM28 13.200l1 1-1 1-1-1zM8.800 3.800l.6.600M21.200 3.800l-.6.600"/></svg>
<span class="t" style="left:772.60px;top:239.34px;font-size:21px;color:#5a6171;-webkit-text-stroke:0.8px #5a6171;transform:scaleX(1.0092);transform-origin:50% 50%;">11</span>
<span class="t" style="left:742.64px;top:275.36px;font-size:14px;color:#b2b8c5;transform:scaleX(0.9607);transform-origin:50% 50%;">Total Product</span>
<div class="a" style="left:910.0px;top:135.5px;width:203px;height:183.500px;background:#fff;overflow:hidden;box-shadow:0 0 10px rgba(120,130,170,.07);">
<svg class="a" style="left:0;top:30px" width="64" height="44" viewBox="0 0 64 44" fill="none" stroke="#f7faf9" stroke-width="6"><path d="M59 6v14H4M22 2L4 20l18 18"/></svg>
</div>
<div class="a" style="left:978.4px;top:160.4px;width:66.200px;height:66.200px;border-radius:50%;background:#43333c"></div>
<svg class="a" style="left:998.5px;top:186.0px" width="26" height="17" viewBox="0 0 26 17" fill="none" stroke="#fff" stroke-width="2.700"><path d="M23.300 1v7.400H2.500M9.200 1.700L2.500 8.400l6.700 6.700"/></svg>
<span class="t" style="left:999.82px;top:239.34px;font-size:21px;color:#5a6171;-webkit-text-stroke:0.8px #5a6171;transform:scaleX(1.0489);transform-origin:50% 50%;">14</span>
<span class="t" style="left:971.03px;top:275.36px;font-size:14px;color:#b2b8c5;transform:scaleX(0.9156);transform-origin:50% 50%;">Sale Returns</span>
<div class="a" style="left:1138.0px;top:135.5px;width:203px;height:183.500px;background:#fff;overflow:hidden;box-shadow:0 0 10px rgba(120,130,170,.07);">
<svg class="a" style="left:-6px;top:0px;opacity:1;" width="80" height="80" viewBox="0 0 30 30" fill="none" stroke="#f6f9f8" stroke-width="1.1" stroke-linejoin="round" stroke-linecap="round"><rect x="15" y=".8" width="13.400" height="12.400" rx="1"/><path d="M19.400.8v3h4.600v-3"/><rect x="21" y="13.200" width="8.200" height="8"/><path d="M23.500 13.200v2.500h3.200v-2.500"/><rect x="21" y="21.200" width="8.200" height="8"/><path d="M23.500 21.200v2.500h3.200v-2.500"/><path d="M13.500 29.200V17.500h5.500v11.700M14.500 17.500v-2h3.500v2"/><path d="M9 5.800C5.500 4 1 6.500 1.500 10.500c.3 2.500 1.300 3.800 2.600 4.500v3M9 5.800c1.500 1 2 3 1.500 5l1 2.500H10v2c0 1-1 1.500-2.600 1.200v1.500M5.500 8.500c-1 1.500-1 3.500 0 5"/><path d="M.8 29.200v-6c0-3 1.500-4.800 3.300-5.200M.8 29.200h12.700M3.600 23.500l3.400 3 10.600-3.500-.8-2-9.300 2.700-2-2.200"/></svg>
</div>
<div class="a" style="left:1206.4px;top:160.4px;width:66.200px;height:66.200px;border-radius:50%;background:#38a1f6"></div>
<svg class="a" style="left:1224.9px;top:174.1px;opacity:1;" width="29.4" height="29.4" viewBox="0 0 30 30" fill="none" stroke="#fff" stroke-width="1.45" stroke-linejoin="round" stroke-linecap="round"><rect x="15" y=".8" width="13.400" height="12.400" rx="1"/><path d="M19.400.8v3h4.600v-3"/><rect x="21" y="13.200" width="8.200" height="8"/><path d="M23.500 13.200v2.500h3.200v-2.500"/><rect x="21" y="21.200" width="8.200" height="8"/><path d="M23.500 21.200v2.500h3.200v-2.500"/><path d="M13.500 29.200V17.500h5.500v11.700M14.500 17.500v-2h3.500v2"/><path d="M9 5.800C5.500 4 1 6.500 1.500 10.500c.3 2.500 1.300 3.800 2.600 4.500v3M9 5.800c1.500 1 2 3 1.500 5l1 2.500H10v2c0 1-1 1.500-2.600 1.200v1.500M5.500 8.500c-1 1.500-1 3.500 0 5"/><path d="M.8 29.200v-6c0-3 1.500-4.800 3.300-5.200M.8 29.200h12.700M3.600 23.500l3.400 3 10.600-3.500-.8-2-9.300 2.700-2-2.200"/></svg>
<span class="t" style="left:1227.82px;top:239.34px;font-size:21px;color:#5a6171;-webkit-text-stroke:0.8px #5a6171;transform:scaleX(1.0917);transform-origin:50% 50%;">00</span>
<span class="t" style="left:1190.47px;top:275.36px;font-size:14px;color:#b2b8c5;transform:scaleX(0.9158);transform-origin:50% 50%;">Return Request</span>
<div class="a" style="left:1366.0px;top:135.5px;width:203px;height:183.500px;background:#fff;overflow:hidden;box-shadow:0 0 10px rgba(120,130,170,.07);">
<svg class="a" style="left:-6px;top:0px;opacity:1;" width="80" height="80" viewBox="0 0 30 30" fill="none" stroke="#f6f9f8" stroke-width="1.1" stroke-linejoin="round" stroke-linecap="round"><rect x="15" y=".8" width="13.400" height="12.400" rx="1"/><path d="M19.400.8v3h4.600v-3"/><rect x="21" y="13.200" width="8.200" height="8"/><path d="M23.500 13.200v2.500h3.200v-2.500"/><rect x="21" y="21.200" width="8.200" height="8"/><path d="M23.500 21.200v2.500h3.200v-2.500"/><path d="M13.500 29.200V17.500h5.500v11.700M14.500 17.500v-2h3.500v2"/><path d="M9 5.800C5.500 4 1 6.500 1.500 10.500c.3 2.500 1.300 3.800 2.600 4.500v3M9 5.800c1.500 1 2 3 1.500 5l1 2.500H10v2c0 1-1 1.500-2.600 1.200v1.500M5.500 8.500c-1 1.500-1 3.500 0 5"/><path d="M.8 29.200v-6c0-3 1.500-4.800 3.300-5.200M.8 29.200h12.700M3.600 23.500l3.400 3 10.600-3.500-.8-2-9.300 2.700-2-2.200"/></svg>
</div>
<div class="a" style="left:1434.4px;top:160.4px;width:66.200px;height:66.200px;border-radius:50%;background:#f7b42a"></div>
<svg class="a" style="left:1452.9px;top:174.1px;opacity:1;" width="29.4" height="29.4" viewBox="0 0 30 30" fill="none" stroke="#fff" stroke-width="1.45" stroke-linejoin="round" stroke-linecap="round"><rect x="15" y=".8" width="13.400" height="12.400" rx="1"/><path d="M19.400.8v3h4.600v-3"/><rect x="21" y="13.200" width="8.200" height="8"/><path d="M23.500 13.200v2.500h3.200v-2.500"/><rect x="21" y="21.200" width="8.200" height="8"/><path d="M23.500 21.200v2.500h3.200v-2.500"/><path d="M13.500 29.200V17.500h5.500v11.700M14.500 17.500v-2h3.500v2"/><path d="M9 5.800C5.500 4 1 6.500 1.500 10.500c.3 2.500 1.300 3.800 2.600 4.500v3M9 5.800c1.500 1 2 3 1.500 5l1 2.500H10v2c0 1-1 1.500-2.600 1.200v1.500M5.500 8.500c-1 1.500-1 3.500 0 5"/><path d="M.8 29.200v-6c0-3 1.500-4.800 3.300-5.200M.8 29.200h12.700M3.600 23.500l3.400 3 10.600-3.500-.8-2-9.300 2.700-2-2.200"/></svg>
<span class="t" style="left:1455.82px;top:239.34px;font-size:21px;color:#5a6171;-webkit-text-stroke:0.8px #5a6171;transform:scaleX(1.0917);transform-origin:50% 50%;">00</span>
<span class="t" style="left:1390.84px;top:275.36px;font-size:14px;color:#b2b8c5;transform:scaleX(0.9216);transform-origin:50% 50%;">Pending Return Request</span>
<div class="a" style="left:226.0px;top:338.5px;width:203px;height:183.500px;background:#fff;overflow:hidden;box-shadow:0 0 10px rgba(120,130,170,.07);">
<svg class="a" style="left:-6px;top:0px;opacity:1;" width="80" height="80" viewBox="0 0 30 30" fill="none" stroke="#f6f9f8" stroke-width="1.1" stroke-linejoin="round" stroke-linecap="round"><path d="M6.200.8h12.600l4.800 4.800v23.600H6.200V22M6.200.8v7.500M18.800.8v4.800h4.800M18.500 9.500h3M18.500 12.500h3M18.500 15.500h3"/><path d="M9 6.800A8.300 8.300 0 1 0 17.300 15.100H9zM9 15.100l-5.900 5.900"/><path d="M11.200 4.600v8.400h8.400a8.400 8.400 0 0 0-8.400-8.400z"/><circle cx="19.300" cy="23" r="3.800"/><path d="M17.600 23l1.200 1.300 2.300-2.500"/></svg>
</div>
<div class="a" style="left:294.4px;top:363.4px;width:66.200px;height:66.200px;border-radius:50%;background:#5b5b25"></div>
<svg class="a" style="left:312.9px;top:377.1px;opacity:1;" width="29.4" height="29.4" viewBox="0 0 30 30" fill="none" stroke="#fff" stroke-width="1.45" stroke-linejoin="round" stroke-linecap="round"><path d="M6.200.8h12.600l4.800 4.800v23.600H6.200V22M6.200.8v7.500M18.800.8v4.800h4.800M18.500 9.500h3M18.500 12.500h3M18.500 15.500h3"/><path d="M9 6.800A8.300 8.300 0 1 0 17.300 15.100H9zM9 15.100l-5.900 5.900"/><path d="M11.200 4.600v8.400h8.400a8.400 8.400 0 0 0-8.400-8.400z"/><circle cx="19.300" cy="23" r="3.800"/><path d="M17.600 23l1.200 1.300 2.300-2.500"/></svg>
<span class="t" style="left:304.14px;top:442.34px;font-size:21px;color:#5a6171;-webkit-text-stroke:0.8px #5a6171;transform:scaleX(1.0981);transform-origin:50% 50%;">3268</span>
<span class="t" style="left:293.26px;top:478.36px;font-size:14px;color:#b2b8c5;transform:scaleX(0.9609);transform-origin:50% 50%;">Total Stock</span>
<div class="a" style="left:454.0px;top:338.5px;width:203px;height:183.500px;background:#fff;overflow:hidden;box-shadow:0 0 10px rgba(120,130,170,.07);">
<svg class="a" style="left:3.5px;top:21.5px" width="56" height="62" viewBox="0 0 21 24" fill="#f7faf9"><ellipse cx="10.500" cy="4.700" rx="10.500" ry="4.700"/><path d="M0 7.400c2 2.800 6 3.800 10.500 3.800S19 10.200 21 7.400v5c-2 2.900-6 3.900-10.500 3.900S2 15.300 0 12.400zM0 14.500c2 2.800 6 3.800 10.500 3.800s8.500-1 10.500-3.800v5c-2 3-6 4.500-10.500 4.500S2 22.500 0 19.500z"/></svg>
</div>
<div class="a" style="left:522.4px;top:363.4px;width:66.200px;height:66.200px;border-radius:50%;background:#8a5d51"></div>
<svg class="a" style="left:544.9px;top:389.0px" width="21" height="22.6" viewBox="0 0 21 24" fill="#fff"><ellipse cx="10.500" cy="4.700" rx="10.500" ry="4.700"/><path d="M0 7.400c2 2.800 6 3.800 10.500 3.800S19 10.200 21 7.400v5c-2 2.900-6 3.900-10.500 3.900S2 15.300 0 12.400zM0 14.500c2 2.800 6 3.800 10.500 3.800s8.500-1 10.500-3.800v5c-2 3-6 4.500-10.500 4.500S2 22.500 0 19.500z"/></svg>
<span class="t" style="left:543.82px;top:442.34px;font-size:21px;color:#5a6171;-webkit-text-stroke:0.8px #5a6171;transform:scaleX(1.0703);transform-origin:50% 50%;">02</span>
<span class="t" style="left:484.30px;top:478.36px;font-size:14px;color:#b2b8c5;transform:scaleX(0.9480);transform-origin:50% 50%;">Total Product Category</span>
<div class="a" style="left:682.0px;top:338.5px;width:203px;height:183.500px;background:#fff;overflow:hidden;box-shadow:0 0 10px rgba(120,130,170,.07);">
<svg class="a" style="left:-6px;top:0px;opacity:1;" width="80" height="80" viewBox="0 0 30 30" fill="none" stroke="#f6f9f8" stroke-width="1.1" stroke-linejoin="round" stroke-linecap="round"><path d="M3 9.200h24l1.800 20H1.200zM3 9.200L1.200 12M27 9.200l1.800 2.800"/><path d="M10.600 13v3.200c0 2.500 2 4.400 4.400 4.400s4.400-1.900 4.400-4.400V13"/><circle cx="10.600" cy="12.200" r="1"/><circle cx="19.400" cy="12.200" r="1"/><path d="M5.300 9.200L4.600 2l8.800-1.300 1 4M11.600 9.200l-1-4.500 9.800-2 1.600 6.500M21 4.300l3.800 1-.8 3.900"/></svg>
</div>
<div class="a" style="left:750.4px;top:363.4px;width:66.200px;height:66.200px;border-radius:50%;background:#50346f"></div>
<svg class="a" style="left:768.9px;top:377.1px;opacity:1;" width="29.4" height="29.4" viewBox="0 0 30 30" fill="none" stroke="#fff" stroke-width="1.45" stroke-linejoin="round" stroke-linecap="round"><path d="M3 9.200h24l1.800 20H1.200zM3 9.200L1.200 12M27 9.200l1.800 2.800"/><path d="M10.600 13v3.200c0 2.500 2 4.400 4.400 4.400s4.400-1.900 4.400-4.400V13"/><circle cx="10.600" cy="12.200" r="1"/><circle cx="19.400" cy="12.200" r="1"/><path d="M5.300 9.200L4.600 2l8.800-1.300 1 4M11.600 9.200l-1-4.500 9.800-2 1.600 6.500M21 4.300l3.800 1-.8 3.900"/></svg>
<span class="t" style="left:771.82px;top:442.34px;font-size:21px;color:#5a6171;-webkit-text-stroke:0.8px #5a6171;transform:scaleX(1.0917);transform-origin:50% 50%;">00</span>
<span class="t" style="left:720.84px;top:478.36px;font-size:14px;color:#b2b8c5;transform:scaleX(0.9377);transform-origin:50% 50%;">Total Invoice By You</span>
<div class="a" style="left:910.0px;top:338.5px;width:203px;height:183.500px;background:#fff;overflow:hidden;box-shadow:0 0 10px rgba(120,130,170,.07);">
<svg class="a" style="left:-6px;top:0px;opacity:1;" width="80" height="80" viewBox="0 0 30 30" fill="none" stroke="#f6f9f8" stroke-width="1.1" stroke-linejoin="round" stroke-linecap="round"><rect x="9.200" y="5.200" width="8.300" height="12"/><path d="M11.300 5.200V3.800a3 3 0 0 1 6 0v1.400M9.200 15.200h8.300"/><rect x="17.500" y="8.600" width="9.500" height="8.600"/><path d="M20 10.600v1.200a2.250 2.250 0 0 0 4.500 0v-1.200M17.500 15.400H27"/><path d="M.8 23.600l3.400-1.300 2.600 6.600-1.400.6M4.200 22.300l5.600-2.500c2-.7 5 .4 7.200 1.400 1.200.6.800 2.200-1 2.200h-4.600M16.800 22.800l9.800-3.100c1.600-.4 2.600 1.100 1.500 2.100l-11.600 6c-2.200.9-6 .3-9.200-.5"/></svg>
</div>
<div class="a" style="left:978.4px;top:363.4px;width:66.200px;height:66.200px;border-radius:50%;background:#71354e"></div>
<svg class="a" style="left:996.9px;top:377.1px;opacity:1;" width="29.4" height="29.4" viewBox="0 0 30 30" fill="none" stroke="#fff" stroke-width="1.45" stroke-linejoin="round" stroke-linecap="round"><rect x="9.200" y="5.200" width="8.300" height="12"/><path d="M11.300 5.200V3.800a3 3 0 0 1 6 0v1.400M9.200 15.200h8.300"/><rect x="17.500" y="8.600" width="9.500" height="8.600"/><path d="M20 10.600v1.200a2.250 2.250 0 0 0 4.500 0v-1.200M17.500 15.400H27"/><path d="M.8 23.600l3.400-1.300 2.600 6.600-1.400.6M4.200 22.300l5.600-2.500c2-.7 5 .4 7.200 1.400 1.200.6.800 2.200-1 2.200h-4.600M16.800 22.800l9.800-3.100c1.600-.4 2.600 1.100 1.500 2.100l-11.600 6c-2.200.9-6 .3-9.200-.5"/></svg>
<span class="t" style="left:991.06px;top:442.34px;font-size:21px;color:#5a6171;-webkit-text-stroke:0.8px #5a6171;transform:scaleX(1.0888);transform-origin:50% 50%;">00 $</span>
<span class="t" style="left:957.01px;top:478.36px;font-size:14px;color:#b2b8c5;transform:scaleX(0.9287);transform-origin:50% 50%;">Total Sale By You</span>
<div class="a" style="left:1138.0px;top:338.5px;width:203px;height:183.500px;background:#fff;overflow:hidden;box-shadow:0 0 10px rgba(120,130,170,.07);">
<svg class="a" style="left:-8px;top:-6px" width="84" height="84" viewBox="0 0 30 30" fill="none" stroke="#f6f9f8" stroke-width="1.600"><path d="M1 12.200L15 1.800l14 10.400M4.600 10.500v17.600h20.800V10.500M11.400 28.100v-9.700h7.200v9.700"/></svg>
</div>
<div class="a" style="left:1206.4px;top:363.4px;width:66.200px;height:66.200px;border-radius:50%;background:#44ff04"></div>
<svg class="a" style="left:1225.0px;top:384.9px" width="29" height="29" viewBox="0 0 30 30" fill="none" stroke="#fff" stroke-width="2" stroke-linejoin="miter"><path d="M1 12.200L15 1.800l14 10.400M4.600 10.500v17.600h20.800V10.500M11.400 28.100v-9.700h7.200v9.700"/></svg>
<span class="t" style="left:1227.82px;top:442.34px;font-size:21px;color:#5a6171;-webkit-text-stroke:0.8px #5a6171;transform:scaleX(1.0703);transform-origin:50% 50%;">03</span>
<span class="t" style="left:1187.23px;top:478.36px;font-size:14px;color:#b2b8c5;transform:scaleX(0.9384);transform-origin:50% 50%;">Total Warehouse</span>
<div class="a" style="left:1366.0px;top:338.5px;width:203px;height:183.500px;background:#fff;overflow:hidden;box-shadow:0 0 10px rgba(120,130,170,.07);">
<svg class="a" style="left:3px;top:24px" width="58" height="58" viewBox="0 0 30 30"><circle cx="6.800" cy="6.800" r="5.300" fill="#f7faf9"/><circle cx="23.200" cy="23.200" r="5.300" fill="#f7faf9"/><path d="M3 27L27 3" stroke="#f7faf9" stroke-width="4.600"/></svg>
</div>
<div class="a" style="left:1434.4px;top:363.4px;width:66.200px;height:66.200px;border-radius:50%;background:#a2a2a2"></div>
<svg class="a" style="left:1456.5px;top:389.5px" width="21.6" height="21.6" viewBox="0 0 30 30"><circle cx="6.800" cy="6.800" r="5.300" fill="#fff"/><circle cx="23.200" cy="23.200" r="5.300" fill="#fff"/><path d="M3 27L27 3" stroke="#fff" stroke-width="4.600"/></svg>
<span class="t" style="left:1461.66px;top:442.34px;font-size:21px;color:#5a6171;-webkit-text-stroke:0.8px #5a6171;">1</span>
<span class="t" style="left:1421.97px;top:478.36px;font-size:14px;color:#b2b8c5;transform:scaleX(0.9335);transform-origin:50% 50%;">Active Coupon</span>
<div class="a" style="left:225.5px;top:542px;width:887.5px;height:420px;background:#fff;box-shadow:0 0 10px rgba(120,130,170,.07);"></div>
<span class="t" style="left:246.30px;top:564.18px;font-size:16px;color:#23232f;-webkit-text-stroke:0.55px #23232f;transform:scaleX(0.9829);transform-origin:0 50%;">Sales This Year</span>
<span class="t" style="left:246.30px;top:582.50px;font-size:21.5px;color:#29a9a6;-webkit-text-stroke:0.7px #29a9a6;transform:scaleX(1.0681);transform-origin:0 50%;">$ 734868.00</span>
<div class="a" style="left:245.8px;top:628.200px;width:119.80000000000001px;height:32.600px;box-sizing:border-box;border:1px solid #ced4da;border-radius:2px;background:#fff"></div>
<span class="t" style="left:277.36px;top:638.14px;font-size:12px;color:#767a80;transform:scaleX(0.9439);transform-origin:50% 50%;">From Date</span>
<div class="a" style="left:391px;top:628.200px;width:120.5px;height:32.600px;box-sizing:border-box;border:1px solid #ced4da;border-radius:2px;background:#fff"></div>
<span class="t" style="left:430.57px;top:638.14px;font-size:12px;color:#767a80;transform:scaleX(0.9430);transform-origin:50% 50%;">To Date</span>
<div class="a" style="left:537px;top:628.2px;width:120px;height:32.5px;background:#29a9a6;border-radius:3px"></div>
<div class="a" style="left:682px;top:628.2px;width:120px;height:32.5px;background:#29a9a6;border-radius:3px"></div>
<svg class="a" style="left:575.500px;top:638.500px" width="11" height="11" viewBox="0 0 11 11"><path d="M.3.500h10.400L6.700 5.200v5.300L4.300 8.700V5.200z" fill="#fff"/></svg>
<span class="t" style="left:590.00px;top:637.16px;font-size:14px;color:#fff;-webkit-text-stroke:0.4px #fff;transform:scaleX(0.9804);transform-origin:0 50%;">Filter</span>
<svg class="a" style="left:712px;top:638.500px" width="11" height="11" viewBox="0 0 11 11" fill="none" stroke="#fff" stroke-width="1.700"><path d="M9.400 6.800A4.200 4.200 0 1 1 8.300 2.400"/><path d="M10.200.6v3.600H6.600z" fill="#fff" stroke="none"/></svg>
<span class="t" style="left:727.30px;top:637.16px;font-size:14px;color:#fff;-webkit-text-stroke:0.4px #fff;transform:scaleX(0.9384);transform-origin:0 50%;">Refresh</span>
<div class="a" style="left:969px;top:629.2px;width:62.799999999999955px;height:31.199999999999932px;background:#2c2c5e;border-radius:3px"></div>
<div class="a" style="left:1035.4px;top:629.2px;width:57.399999999999864px;height:31.199999999999932px;background:#2c2c5e;border-radius:3px"></div>
<svg class="a" style="left:979.500px;top:638.500px" width="14" height="11" viewBox="0 0 14 11" fill="none" stroke="#fff"><path d="M1 0v10h13" stroke-width="1.800"/><path d="M3.500 7l3-3 2 2 3.800-3.800" stroke-width="1.700"/><path d="M9.600 1.200h3.500v3.500z" fill="#fff" stroke="none"/></svg>
<span class="t" style="left:996.50px;top:637.46px;font-size:14px;color:#fff;transform:scaleX(0.9369);transform-origin:0 50%;">Line</span>
<svg class="a" style="left:1045.500px;top:638.500px" width="14" height="11" viewBox="0 0 14 11" fill="none" stroke="#fff"><path d="M1 0v10h13" stroke-width="1.800"/><path d="M4.200 8V5M6.800 8V2.500M9.400 8V4.500M12 8V1" stroke-width="1.600"/></svg>
<span class="t" style="left:1062.40px;top:637.46px;font-size:14px;color:#fff;transform:scaleX(0.9180);transform-origin:0 50%;">Bar</span>
<svg class="a" style="left:226px;top:662px" width="887" height="296" viewBox="226 662 887 296" font-family="Liberation Sans, Arial, sans-serif" font-size="10" fill="#666"><rect x="629" y="668" width="36" height="12.500" fill="#ff5733"/><text x="669" y="677.300" font-size="10">Sales($ )</text><path d="M363.5 687.9V925.6M434.5 687.9V925.6M504.5 687.9V925.6M575.5 687.9V925.6M645.5 687.9V925.6M715.5 687.9V925.6M786.5 687.9V925.6M856.5 687.9V925.6M927.5 687.9V925.6M997.5 687.9V925.6M1067.5 687.9V925.6" stroke="#e6e6e6" stroke-width="1" fill="none"/><path d="M293.5 687.9V925.6" stroke="#c2c2c2" stroke-width="1" fill="none"/><path d="M286.5 687.5H1067.8M286.5 713.5H1067.8M286.5 739.5H1067.8M286.5 764.5H1067.8M286.5 790.5H1067.8M286.5 816.5H1067.8M286.5 842.5H1067.8M286.5 867.5H1067.8M286.5 893.5H1067.8" stroke="#e6e6e6" stroke-width="1" fill="none"/><path d="M286.5 919.5H1067.8" stroke="#c2c2c2" stroke-width="1" fill="none"/><text x="284.300" y="690.4" text-anchor="end">450,000</text><text x="284.300" y="716.1" text-anchor="end">400,000</text><text x="284.300" y="741.8" text-anchor="end">350,000</text><text x="284.300" y="767.5" text-anchor="end">300,000</text><text x="284.300" y="793.2" text-anchor="end">250,000</text><text x="284.300" y="818.8" text-anchor="end">200,000</text><text x="284.300" y="844.5" text-anchor="end">150,000</text><text x="284.300" y="870.2" text-anchor="end">100,000</text><text x="284.300" y="895.9" text-anchor="end">50,000</text><text x="284.300" y="921.6" text-anchor="end">0</text><text x="293.5" y="937.700" text-anchor="middle">January</text><text x="363.9" y="937.700" text-anchor="middle">February</text><text x="434.3" y="937.700" text-anchor="middle">March</text><text x="504.7" y="937.700" text-anchor="middle">April</text><text x="575.1" y="937.700" text-anchor="middle">May</text><text x="645.5" y="937.700" text-anchor="middle">June</text><text x="715.8" y="937.700" text-anchor="middle">July</text><text x="786.2" y="937.700" text-anchor="middle">August</text><text x="856.6" y="937.700" text-anchor="middle">September</text><text x="927.0" y="937.700" text-anchor="middle">October</text><text x="997.4" y="937.700" text-anchor="middle">November</text><text x="1067.8" y="937.700" text-anchor="middle">December</text><polyline fill="none" stroke="#ff5733" stroke-width="2.800" stroke-linejoin="round" points="293.5,919.1 363.9,919.1 434.3,919.1 504.7,919.1 575.1,919.1 645.5,919.1 715.8,916.5 786.2,919.1 856.6,919.1 927.0,919.1 997.4,691.6 1067.8,919.1"/><circle cx="293.5" cy="919.1" r="3.300" fill="#ff5733"/><circle cx="363.9" cy="919.1" r="3.300" fill="#ff5733"/><circle cx="434.3" cy="919.1" r="3.300" fill="#ff5733"/><circle cx="504.7" cy="919.1" r="3.300" fill="#ff5733"/><circle cx="575.1" cy="919.1" r="3.300" fill="#ff5733"/><circle cx="645.5" cy="919.1" r="3.300" fill="#ff5733"/><circle cx="715.8" cy="916.5" r="3.300" fill="#ff5733"/><circle cx="786.2" cy="919.1" r="3.300" fill="#ff5733"/><circle cx="856.6" cy="919.1" r="3.300" fill="#ff5733"/><circle cx="927.0" cy="919.1" r="3.300" fill="#ff5733"/><circle cx="997.4" cy="691.6" r="3.300" fill="#ff5733"/><circle cx="1067.8" cy="919.1" r="3.300" fill="#ff5733"/></svg>
<div class="a" style="left:1137.6px;top:542px;width:431.4000000000001px;height:420px;background:#fff;box-shadow:0 0 10px rgba(120,130,170,.07);"></div>
<span class="t" style="left:1158.00px;top:564.18px;font-size:16px;color:#23232f;-webkit-text-stroke:0.55px #23232f;transform:scaleX(1.0201);transform-origin:0 50%;">Sales All Time</span>
<span class="t" style="left:1158.00px;top:583.10px;font-size:21.5px;color:#29a9a6;-webkit-text-stroke:0.7px #29a9a6;transform:scaleX(1.0706);transform-origin:0 50%;">$ 734868.00</span>
<svg class="a" style="left:1226px;top:604px" width="256" height="256" viewBox="1226 604 256 256"><path d="M1353.3 731.1L1358.69 612.42A118.8 118.8 0 1 1 1265.85 811.51Z" fill="#3d97fc" stroke="#fff" stroke-width="1.600" stroke-linejoin="round"/><path d="M1353.3 731.1L1265.85 811.51A118.8 118.8 0 0 1 1353.30 612.30Z" fill="#e46f6f" stroke="#fff" stroke-width="1.600" stroke-linejoin="round"/><path d="M1353.3 731.1L1353.30 612.30A118.8 118.8 0 0 1 1358.69 612.42Z" fill="#f2c037" stroke="#fff" stroke-width="1.600" stroke-linejoin="round"/></svg>
<div class="a" style="left:1158px;top:894.500px;width:14.700px;height:14.700px;border-radius:50%;background:#e46f6f"></div>
<span class="t" style="left:1179.70px;top:895.45px;font-size:13px;color:#e46f6f;transform:scaleX(1.0221);transform-origin:0 50%;">This Month $ 442806.00</span>
<div class="a" style="left:1420.700px;top:894.500px;width:14.700px;height:14.700px;border-radius:50%;background:#6ddf86"></div>
<span class="t" style="left:1443.20px;top:895.45px;font-size:13px;color:#6ddf86;transform:scaleX(1.0185);transform-origin:0 50%;">Last Month $ 0.00</span>
<div class="a" style="left:225.5px;top:982.8px;width:659.5px;height:247.20000000000005px;background:#fff;box-shadow:0 0 10px rgba(120,130,170,.07);"></div>
<span class="t" style="left:246.00px;top:1011.98px;font-size:16px;color:#2c2c5e;-webkit-text-stroke:0.6px #2c2c5e;transform:scaleX(1.0541);transform-origin:0 50%;">Top Product</span>
<div class="a" style="left:784.3px;top:1003px;width:80.70000000000005px;height:31px;background:#f4f5fa;border-radius:3px"></div>
<span class="t" style="left:795.20px;top:1011.46px;font-size:14px;color:#2c2c4e;transform:scaleX(0.9483);transform-origin:0 50%;">Month</span>
<svg class="a" style="left:842.500px;top:1013px" width="13" height="10" viewBox="0 0 13 10" fill="none" stroke="#26263f" stroke-width="2"><path d="M1.300 1.800l5.200 5.200 5.200-5.200"/></svg>
<div class="a" style="left:246px;top:1046px;width:193px;height:140px;box-sizing:border-box;border:1px solid #e2e3ea;border-radius:3px;background:#fff"></div>
<div class="a" style="left:251px;top:1051px;width:183px;height:82.70000000000005px;background:#ececec;"></div>
<svg class="a" style="left:291.6px;top:1051px" width="100.5" height="82.8" viewBox="0 0 100 83" preserveAspectRatio="none"><rect x="3.200" y="3.200" width="93.600" height="76.600" rx="7" fill="none" stroke="#d5d5d5" stroke-width="6.400"/><path d="M14.500 66.500L38 22.500c.9-1.600 2.500-1.600 3.400 0l13.200 24c.8 1.600-.6 3-2 4.200.6 1.300 2 1.600 3 .3l10.500-12.500c1-1.200 2.300-1.200 3.100.2l16.200 27.800c.6 1.200 0 1.900-1.300 1.900H15.700c-1.300 0-1.800-.8-1.200-1.900z" fill="#d5d5d5"/></svg>
<span class="t" style="left:251.00px;top:1142.55px;font-size:13px;color:#303030;-webkit-text-stroke:0.5px #303030;transform:scaleX(0.9494);transform-origin:0 50%;">Galaxy S21 5G</span>
<span class="t" style="left:251.00px;top:1162.26px;font-size:14px;color:#44464c;transform:scaleX(0.9532);transform-origin:0 50%;">$ 11400.00</span>
<div class="a" style="left:459px;top:1046px;width:193px;height:140px;box-sizing:border-box;border:1px solid #e2e3ea;border-radius:3px;background:#fff"></div>
<div class="a" style="left:464px;top:1051px;width:183px;height:82.70000000000005px;background:#ececec;"></div>
<svg class="a" style="left:504.6px;top:1051px" width="100.5" height="82.8" viewBox="0 0 100 83" preserveAspectRatio="none"><rect x="3.200" y="3.200" width="93.600" height="76.600" rx="7" fill="none" stroke="#d5d5d5" stroke-width="6.400"/><path d="M14.500 66.500L38 22.500c.9-1.600 2.500-1.600 3.400 0l13.200 24c.8 1.600-.6 3-2 4.200.6 1.300 2 1.600 3 .3l10.500-12.500c1-1.200 2.300-1.200 3.100.2l16.200 27.800c.6 1.200 0 1.900-1.300 1.900H15.700c-1.300 0-1.800-.8-1.200-1.900z" fill="#d5d5d5"/></svg>
<span class="t" style="left:464.00px;top:1142.55px;font-size:13px;color:#303030;-webkit-text-stroke:0.5px #303030;transform:scaleX(0.9795);transform-origin:0 50%;">Lenovo IdeaPad Slim 3 Ryzen</span>
<span class="t" style="left:464.00px;top:1162.26px;font-size:14px;color:#44464c;transform:scaleX(0.9377);transform-origin:0 50%;">$ 5700.00</span>
<div class="a" style="left:672px;top:1046px;width:193px;height:140px;box-sizing:border-box;border:1px solid #e2e3ea;border-radius:3px;background:#fff"></div>
<svg class="a" style="left:698.200px;top:1050.7px" width="140.500" height="83.200" viewBox="0 0 140.500 83.200"><defs><linearGradient id="mg1" x1="0" y1="1" x2=".5" y2=".1"><stop offset="0" stop-color="#10467a"/><stop offset=".18" stop-color="#5a4085"/><stop offset=".36" stop-color="#b02d80"/><stop offset=".56" stop-color="#d8246f"/><stop offset="1" stop-color="#f60d45"/></linearGradient><linearGradient id="mg2" x1="0" y1="0" x2="1" y2=".6"><stop offset="0" stop-color="#fb5458"/><stop offset=".5" stop-color="#fb6656"/><stop offset="1" stop-color="#fa4a42"/></linearGradient><linearGradient id="mg3" x1="0" y1="0" x2="1" y2=".2"><stop offset="0" stop-color="#55b3ea"/><stop offset=".5" stop-color="#2a8fd0"/><stop offset="1" stop-color="#0d6db0"/></linearGradient><linearGradient id="mg4" x1="0" y1="0" x2="1" y2=".5"><stop offset="0" stop-color="#f79a52"/><stop offset="1" stop-color="#fdb83a"/></linearGradient><filter id="mb" x="-10%" y="-30%" width="120%" height="160%"><feGaussianBlur stdDeviation="3.200"/></filter><clipPath id="mc"><rect x="3.800" y="0" width="132.900" height="81.300"/></clipPath></defs><rect width="140.500" height="83.200" fill="#030303"/><g clip-path="url(#mc)"><rect x="3.800" y="0" width="132.900" height="81.300" fill="url(#mg1)"/><path d="M-6 12L3.800 24C14 38 22 41 33 43c10 2 16 3 24 7 9 5 16 10 25 14 9 3 18 5 28 8 9 3 17 4 32 1V40L-6-6z" fill="#f70d41" filter="url(#mb)"/><path d="M-4-8V10c8 10 14 17 24 20 8 2 12 1 20 3 8 2 14 7 22 11 8 4 14 7 22 9 10 2 18 5 26 5 10 0 18-2 32-5V30L40-8z" fill="url(#mg2)" filter="url(#mb)"/><path d="M3.800 0H32.400C42 3 48 8 56.900 13.200 64 19 72 21 80.400 24.400 90 30 99 36 108.600 40.400c5 2 8 4 12.200 6.100 5 1.500 10 1 15.900 1V56c-8 2-14 0-22-2-10-3-18-8-28-12-10-4-18-4-28-8C46 30 38 24 28 18 18 12 10 8 3.800 6z" fill="url(#mg2)"/><path d="M80.400 24.400c6 1 12 2 18.800 3.800 7 1.500 12 2 18.800 3.800 7 2 12 4 18.700 6.500v9c-6 0-11 .5-15.900-1-4.200-2.100-7.200-4.100-12.200-6.100C99 36 90 30 80.400 24.400z" fill="url(#mg4)"/><path d="M56.900 13.200c6 1.500 12 2 18.800 2.300 5 .2 9-.3 14.100 0 7 2 12 5 18.800 7.100 5 1.500 9 2 14.100 2.800 5 .8 9 1.500 14 2.800v10.300c-6.700-2.500-11.700-4.500-18.700-6.500-6.800-1.800-11.800-2.300-18.800-3.800-6.800-1.800-12.800-2.800-18.800-3.800C72 21 64 19 56.900 13.200z" fill="#e2e9f8"/><path d="M32.400 0H136.700V28.200c-5-1.300-9-2-14-2.800-5.100-.8-9.100-1.300-14.100-2.800-6.800-2.100-11.800-5.100-18.800-7.100-5.100-.3-9.100.2-14.100 0-6.800-.3-12.800-.8-18.800-2.300C48 8 42 3 32.400 0z" fill="url(#mg3)"/></g></svg>
<span class="t" style="left:677.00px;top:1142.55px;font-size:13px;color:#303030;-webkit-text-stroke:0.5px #303030;">Apple MacBook Air</span>
<span class="t" style="left:677.00px;top:1162.26px;font-size:14px;color:#44464c;transform:scaleX(0.9305);transform-origin:0 50%;">$ 42750.00</span>
<div class="a" style="left:246px;top:1206px;width:193px;height:140px;box-sizing:border-box;border:1px solid #e2e3ea;border-radius:3px;background:#fff"></div>
<div class="a" style="left:251px;top:1211px;width:183px;height:82.70000000000005px;background:#ececec;"></div>
<svg class="a" style="left:291.6px;top:1211px" width="100.5" height="82.8" viewBox="0 0 100 83" preserveAspectRatio="none"><rect x="3.200" y="3.200" width="93.600" height="76.600" rx="7" fill="none" stroke="#d5d5d5" stroke-width="6.400"/><path d="M14.500 66.500L38 22.500c.9-1.600 2.500-1.600 3.400 0l13.200 24c.8 1.600-.6 3-2 4.200.6 1.300 2 1.600 3 .3l10.500-12.500c1-1.200 2.300-1.200 3.100.2l16.200 27.800c.6 1.200 0 1.900-1.300 1.900H15.700c-1.300 0-1.800-.8-1.200-1.900z" fill="#d5d5d5"/></svg>
<span class="t" style="left:251.00px;top:1302.55px;font-size:13px;color:#303030;-webkit-text-stroke:0.5px #303030;transform:scaleX(0.9494);transform-origin:0 50%;">Galaxy S21 5G</span>
<span class="t" style="left:251.00px;top:1322.26px;font-size:14px;color:#44464c;transform:scaleX(0.9532);transform-origin:0 50%;">$ 11400.00</span>
<div class="a" style="left:459px;top:1206px;width:193px;height:140px;box-sizing:border-box;border:1px solid #e2e3ea;border-radius:3px;background:#fff"></div>
<div class="a" style="left:464px;top:1211px;width:183px;height:82.70000000000005px;background:#ececec;"></div>
<svg class="a" style="left:504.6px;top:1211px" width="100.5" height="82.8" viewBox="0 0 100 83" preserveAspectRatio="none"><rect x="3.200" y="3.200" width="93.600" height="76.600" rx="7" fill="none" stroke="#d5d5d5" stroke-width="6.400"/><path d="M14.500 66.500L38 22.500c.9-1.600 2.500-1.600 3.400 0l13.200 24c.8 1.600-.6 3-2 4.200.6 1.300 2 1.600 3 .3l10.500-12.500c1-1.200 2.300-1.200 3.100.2l16.200 27.800c.6 1.200 0 1.900-1.300 1.900H15.700c-1.300 0-1.800-.8-1.200-1.900z" fill="#d5d5d5"/></svg>
<span class="t" style="left:464.00px;top:1302.55px;font-size:13px;color:#303030;-webkit-text-stroke:0.5px #303030;transform:scaleX(0.9795);transform-origin:0 50%;">Lenovo IdeaPad Slim 3 Ryzen</span>
<span class="t" style="left:464.00px;top:1322.26px;font-size:14px;color:#44464c;transform:scaleX(0.9377);transform-origin:0 50%;">$ 5700.00</span>
<div class="a" style="left:672px;top:1206px;width:193px;height:140px;box-sizing:border-box;border:1px solid #e2e3ea;border-radius:3px;background:#fff"></div>
<div class="a" style="left:677px;top:1211px;width:183px;height:82.70000000000005px;background:#ececec;"></div>
<svg class="a" style="left:717.6px;top:1211px" width="100.5" height="82.8" viewBox="0 0 100 83" preserveAspectRatio="none"><rect x="3.200" y="3.200" width="93.600" height="76.600" rx="7" fill="none" stroke="#d5d5d5" stroke-width="6.400"/><path d="M14.500 66.500L38 22.500c.9-1.600 2.500-1.600 3.400 0l13.200 24c.8 1.600-.6 3-2 4.200.6 1.300 2 1.600 3 .3l10.500-12.500c1-1.200 2.300-1.200 3.100.2l16.200 27.800c.6 1.200 0 1.900-1.300 1.900H15.700c-1.300 0-1.800-.8-1.200-1.900z" fill="#d5d5d5"/></svg>
<span class="t" style="left:677.00px;top:1302.55px;font-size:13px;color:#303030;-webkit-text-stroke:0.5px #303030;">Apple MacBook Air</span>
<span class="t" style="left:677.00px;top:1322.26px;font-size:14px;color:#44464c;transform:scaleX(0.9305);transform-origin:0 50%;">$ 42750.00</span>
<div class="a" style="left:910px;top:982.8px;width:659px;height:247.20000000000005px;background:#fff;box-shadow:0 0 10px rgba(120,130,170,.07);"></div>
<span class="t" style="left:930.20px;top:1011.98px;font-size:16px;color:#2c2c5e;-webkit-text-stroke:0.6px #2c2c5e;transform:scaleX(1.0794);transform-origin:0 50%;">Best Item All Time</span>
<div class="a" style="left:1480.2px;top:1003px;width:68.79999999999995px;height:30.799999999999955px;background:#5c5da7;border-radius:3px"></div>
<span class="t" style="left:1491.50px;top:1011.16px;font-size:14px;color:#fff;transform:scaleX(0.9535);transform-origin:0 50%;">View All</span>
<div class="a" style="left:930.200px;top:1051.2px;width:618px;height:83.400px;box-sizing:border-box;border:1px solid #f3f4f6;background:#fff"></div>
<div class="a" style="left:930.2px;top:1055.6000000000001px;width:74.59999999999991px;height:74.59999999999991px;background:#ececec;"></div>
<svg class="a" style="left:947.800px;top:1076.2px" width="40.700" height="33.800" viewBox="0 0 100 83" preserveAspectRatio="none"><rect x="3.200" y="3.200" width="93.600" height="76.600" rx="7" fill="none" stroke="#d5d5d5" stroke-width="6.400"/><path d="M14.500 66.500L38 22.500c.9-1.600 2.500-1.600 3.400 0l13.200 24c.8 1.600-.6 3-2 4.200.6 1.300 2 1.600 3 .3l10.500-12.500c1-1.200 2.300-1.200 3.100.2l16.200 27.800c.6 1.200 0 1.900-1.300 1.900H15.700c-1.300 0-1.800-.8-1.200-1.900z" fill="#d5d5d5"/></svg>
<span class="t" style="left:1017.90px;top:1061.15px;font-size:13px;color:#69707c;-webkit-text-stroke:0.4px #69707c;">HP 15s-du1115TU Celeron</span>
<span class="t" style="left:1017.90px;top:1079.14px;font-size:12px;color:#3a3a3a;transform:scaleX(0.9517);transform-origin:0 50%;">Total Sale :</span>
<span class="t" style="left:1077.50px;top:1079.14px;font-size:12px;color:#2a2a2a;-webkit-text-stroke:0.35px #2a2a2a;transform:scaleX(0.9741);transform-origin:0 50%;">$ 5231.00</span>
<div class="a" style="left:930.200px;top:1140.7px;width:618px;height:83.400px;box-sizing:border-box;border:1px solid #f3f4f6;background:#fff"></div>
<div class="a" style="left:930.2px;top:1145.1000000000001px;width:74.59999999999991px;height:74.59999999999991px;background:#ececec;"></div>
<svg class="a" style="left:947.800px;top:1165.7px" width="40.700" height="33.800" viewBox="0 0 100 83" preserveAspectRatio="none"><rect x="3.200" y="3.200" width="93.600" height="76.600" rx="7" fill="none" stroke="#d5d5d5" stroke-width="6.400"/><path d="M14.500 66.500L38 22.500c.9-1.600 2.500-1.600 3.400 0l13.200 24c.8 1.600-.6 3-2 4.200.6 1.300 2 1.600 3 .3l10.500-12.500c1-1.200 2.300-1.200 3.100.2l16.200 27.800c.6 1.200 0 1.900-1.300 1.900H15.700c-1.300 0-1.800-.8-1.200-1.900z" fill="#d5d5d5"/></svg>
<span class="t" style="left:1017.90px;top:1150.65px;font-size:13px;color:#69707c;-webkit-text-stroke:0.4px #69707c;">Edifier G20 7.1</span>
<span class="t" style="left:1017.90px;top:1168.64px;font-size:12px;color:#3a3a3a;transform:scaleX(0.9517);transform-origin:0 50%;">Total Sale :</span>
<span class="t" style="left:1077.50px;top:1168.64px;font-size:12px;color:#2a2a2a;-webkit-text-stroke:0.35px #2a2a2a;transform:scaleX(0.9741);transform-origin:0 50%;">$ 1960.00</span>
</div></div></body></html>
